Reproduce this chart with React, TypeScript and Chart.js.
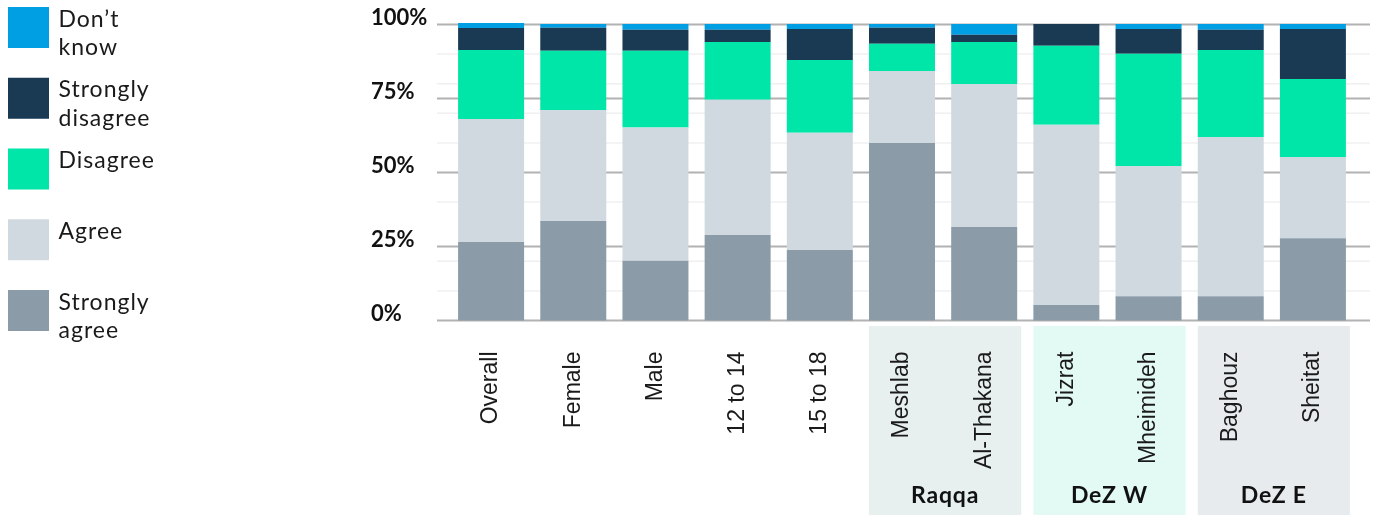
import React, { useEffect, useRef } from "react";
import { Chart, registerables } from "chart.js";

Chart.register(...registerables);

// Survey responses by sub-group, percentages per category
const categories = [
  "Overall",
  "Female",
  "Male",
  "12 to 14",
  "15 to 18",
  "Meshlab",
  "Al-Thakana",
  "Jizrat",
  "Mheimideh",
  "Baghouz",
  "Sheitat",
];
const stronglyAgree = [26.5, 33.6, 20.2, 28.9, 23.8, 60.0, 31.6, 5.2, 8.2, 8.2, 27.8];
const agree = [41.6, 37.5, 45.0, 45.7, 39.6, 24.3, 48.3, 60.9, 44.0, 53.8, 27.4];
const disagree = [23.3, 20.0, 25.9, 19.5, 24.6, 9.2, 14.2, 26.7, 37.9, 29.4, 26.4];
const stronglyDisagree = [7.4, 7.8, 7.1, 4.1, 10.5, 5.4, 2.4, 7.4, 8.4, 6.8, 16.9];
const dontKnow = [1.7, 1.3, 2.0, 2.0, 1.7, 1.3, 3.7, 0, 1.7, 2.0, 1.7];

// Region groupings shown beneath the axis
const groupLabels = ["Raqqa", "DeZ W", "DeZ E"];
const groupFirst = [5, 7, 9];
const groupLast = [6, 8, 10];
const groupFills = ["#e7f0ef", "#e3faf4", "#e8ebee"];

// Axis ticks and grid
const yTickValues = [0, 25, 50, 75, 100];
const minorGridValues = [10, 20, 40, 60, 70, 80, 90];

// Legend, listed top to bottom
const legendLines = [["Don\u2019t", "know"], ["Strongly", "disagree"], ["Disagree"], ["Agree"], ["Strongly", "agree"]];
const legendColors = ["#009fe3", "#1a3a53", "#00e6a8", "#d1d9e0", "#8b9ba8"];

const SANS = "Lato, 'Noto Sans', sans-serif";
const ARIAL = "'Liberation Sans', Arial, sans-serif";

const groupPlugin = {
  id: "groupBoxes",
  beforeDraw(chart: any) {
    const { ctx, chartArea, scales } = chart;
    const x = scales.x;
    ctx.save();
    groupLabels.forEach((label, i) => {
      const left = x.getPixelForValue(groupFirst[i]) - 33;
      const right = x.getPixelForValue(groupLast[i]) + 37;
      const top = chartArea.bottom + 5.5;
      ctx.fillStyle = groupFills[i];
      ctx.fillRect(left, top, right - left, chart.height - top);
      ctx.fillStyle = "#111";
      ctx.font = `bold 23px ${SANS}`;
      (ctx as any).letterSpacing = "0.8px";
      ctx.textAlign = "center";
      ctx.textBaseline = "alphabetic";
      ctx.fillText(label, (left + right) / 2, 502.5);
    });
    ctx.restore();
  },
};

const gridPlugin = {
  id: "customGrid",
  beforeDatasetsDraw(chart: any) {
    const { ctx, chartArea, scales } = chart;
    const y = scales.y;
    const x0 = chartArea.left - 13;
    const x1 = chartArea.right + 16;
    ctx.save();
    ctx.strokeStyle = "#f0f0f0";
    ctx.lineWidth = 1.5;
    minorGridValues.forEach((v) => {
      const py = y.getPixelForValue(v);
      ctx.beginPath();
      ctx.moveTo(x0, py);
      ctx.lineTo(x1, py);
      ctx.stroke();
    });
    ctx.strokeStyle = "#b2b2b2";
    ctx.lineWidth = 2;
    yTickValues.forEach((v) => {
      const py = y.getPixelForValue(v);
      ctx.beginPath();
      ctx.moveTo(x0, py);
      ctx.lineTo(x1, py);
      ctx.stroke();
    });
    ctx.restore();
  },
};

const legendPlugin = {
  id: "sideLegend",
  afterDraw(chart: any) {
    const { ctx } = chart;
    ctx.save();
    legendLines.forEach((lines, i) => {
      const top = 7 + i * 70.75;
      ctx.fillStyle = legendColors[i];
      ctx.fillRect(8, top, 41, 41);
      ctx.fillStyle = "#1a1a1a";
      ctx.font = `23px ${SANS}`;
      (ctx as any).letterSpacing = "1px";
      ctx.textAlign = "left";
      ctx.textBaseline = "alphabetic";
      lines.forEach((t, j) => {
        ctx.fillText(t, 58.5, top + 19.7 + j * 28.4);
      });
    });
    ctx.restore();
  },
};

export default function App() {
  const canvasRef = useRef<HTMLCanvasElement>(null);

  useEffect(() => {
    const canvas = canvasRef.current;
    if (!canvas) return;
    const makeSet = (label: string, data: number[], color: string) => ({
      label,
      data,
      backgroundColor: color,
      borderWidth: 0,
      barPercentage: 0.803,
      categoryPercentage: 1,
      clip: false as const,
    });
    const chart = new Chart(canvas, {
      type: "bar",
      data: {
        labels: categories,
        datasets: [
          makeSet("Strongly agree", stronglyAgree, legendColors[4]),
          makeSet("Agree", agree, legendColors[3]),
          makeSet("Disagree", disagree, legendColors[2]),
          makeSet("Strongly disagree", stronglyDisagree, legendColors[1]),
          makeSet("Don\u2019t know", dontKnow, legendColors[0]),
        ],
      },
      options: {
        animation: false,
        responsive: true,
        maintainAspectRatio: false,
        layout: { padding: { left: 371, right: 21, top: 24.5, bottom: 0 } },
        plugins: {
          legend: { display: false },
          tooltip: { enabled: false },
        },
        scales: {
          x: {
            stacked: true,
            grid: { display: false, drawTicks: false },
            border: { display: false },
            ticks: {
              autoSkip: false,
              minRotation: 90,
              maxRotation: 90,
              padding: 31,
              color: "#1a1a1a",
              font: { family: ARIAL, size: 23 },
            },
            afterFit: (s: any) => {
              s.height = 194.5;
            },
          },
          y: {
            stacked: true,
            min: 0,
            max: 100,
            grid: { display: false, drawTicks: false },
            border: { display: false },
            afterBuildTicks: (s: any) => {
              s.ticks = yTickValues.map((v) => ({ value: v }));
            },
            ticks: {
              crossAlign: "far",
              labelOffset: -7,
              padding: 0,
              color: "#111",
              font: { family: SANS, size: 22, weight: "bold" },
              callback: (v: any) => `${v}%`,
            },
            afterFit: (s: any) => {
              s.width = 79;
            },
          },
        },
      },
      plugins: [groupPlugin, gridPlugin, legendPlugin],
    });
    return () => chart.destroy();
  }, []);

  return (
    <div
      style={{
        position: "fixed",
        left: 0,
        top: 0,
        width: 1375,
        height: 515,
        background: "#ffffff",
      }}
    >
      <canvas ref={canvasRef} />
    </div>
  );
}
